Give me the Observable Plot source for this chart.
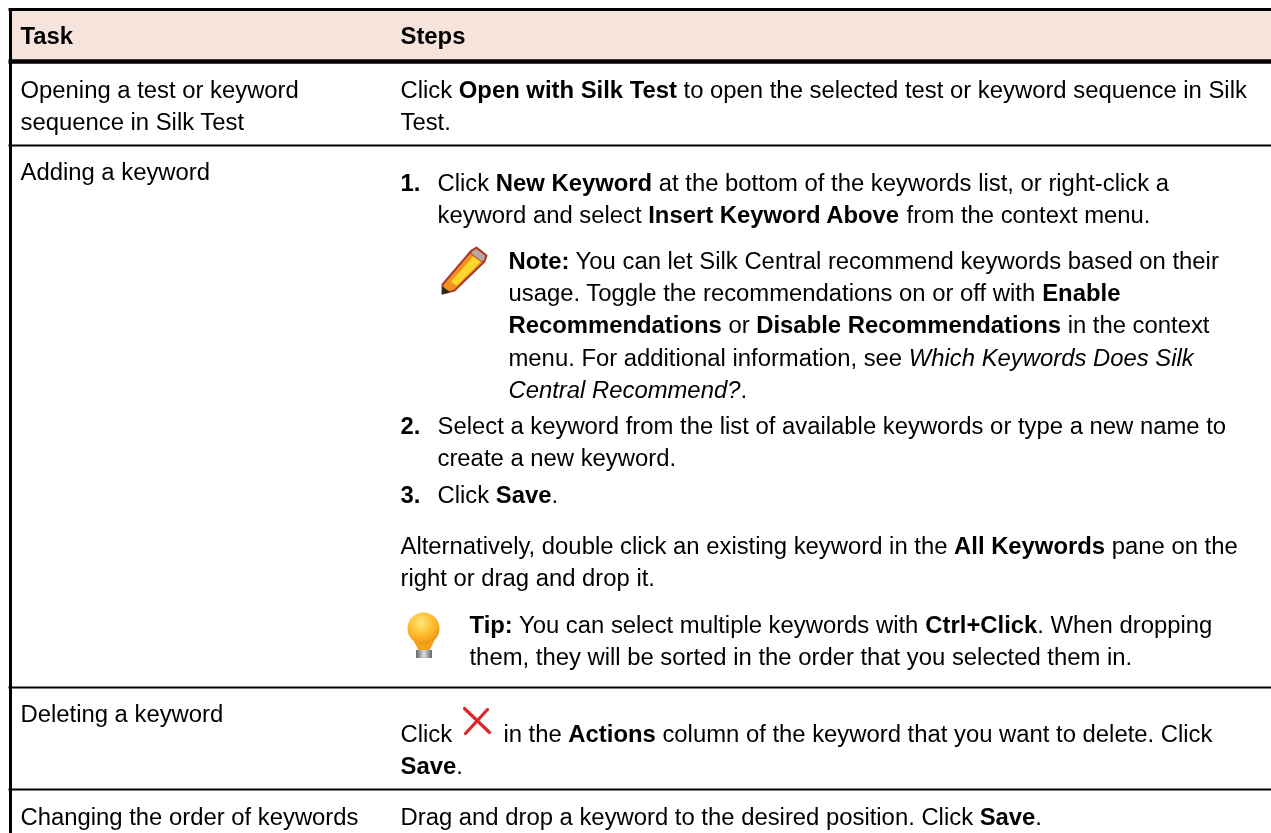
<!DOCTYPE html>
<html><head><meta charset="utf-8">
<script src="https://cdn.jsdelivr.net/npm/d3@7"></script>
<script src="https://cdn.jsdelivr.net/npm/@observablehq/plot@0.6"></script>
<style>html,body{margin:0;padding:0;background:#fff}svg{display:block;filter:blur(0.35px)}</style>
</head><body><div id="chart"></div>
<script>
const B = t => ["bold", t], I = t => ["italic", t];
const headers = ["Task", "Steps"];
const tasks = [
  ["Opening a test or keyword", "sequence in Silk Test"],
  ["Adding a keyword"],
  ["Deleting a keyword"],
  ["Changing the order of keywords"]
];
const openSteps = [
  ["Click ", B("Open with Silk Test"), " to open the selected test or keyword sequence in Silk"],
  ["Test."]
];
const step1 = [
  ["Click ", B("New Keyword"), " at the bottom of the keywords list, or right-click a"],
  ["keyword and select ", B("Insert Keyword Above"), " from the context menu."]
];
const note = [
  [B("Note:"), " You can let Silk Central recommend keywords based on their"],
  ["usage. Toggle the recommendations on or off with ", B("Enable")],
  [B("Recommendations"), " or ", B("Disable Recommendations"), " in the context"],
  ["menu. For additional information, see ", I("Which Keywords Does Silk")],
  [I("Central Recommend?"), "."]
];
const step2 = [
  ["Select a keyword from the list of available keywords or type a new name to"],
  ["create a new keyword."]
];
const step3 = [["Click ", B("Save"), "."]];
const alt = [
  ["Alternatively, double click an existing keyword in the ", B("All Keywords"), " pane on the"],
  ["right or drag and drop it."]
];
const tip = [
  [B("Tip:"), " You can select multiple keywords with ", B("Ctrl+Click"), ". When dropping"],
  ["them, they will be sorted in the order that you selected them in."]
];
const del = [
  ["Click ", ["gap", 38], " in the ", B("Actions"), " column of the keyword that you want to delete. Click"],
  [B("Save"), "."]
];
const order = [["Drag and drop a keyword to the desired position. Click ", B("Save"), "."]];

const W = 1271, H = 833, FS = 23.85, LH = 32.4;
const FAM = "Liberation Sans";
const ctx = document.createElement("canvas").getContext("2d");
const measure = (t, st) => {
  ctx.font = `${st === "bold" ? "bold " : st === "italic" ? "italic " : ""}${FS}px "${FAM}"`;
  return ctx.measureText(t).width;
};
const runs = [];
function put(line, x, y) {
  let cx = x;
  for (const r of line) {
    const [st, t] = typeof r === "string" ? ["normal", r] : r;
    if (st === "gap") { cx += t; continue; }
    runs.push({x: cx, y, t, st});
    cx += measure(t, st);
  }
}
function block(lines, x, y) { lines.forEach((l, i) => put(l, x, y + i * LH)); }

const TX = 20, SX = 400, SI = 437, NX = 508, TIPX = 469;
put([B(headers[0])], TX, 43);
put([B(headers[1])], SX, 43);
block(tasks[0].map(s => [s]), TX, 97);
block(openSteps, SX, 97);
put([tasks[1][0]], TX, 179);
put([B("1.")], SX, 190);
block(step1, SI, 190);
block(note, NX, 268);
put([B("2.")], SX, 433);
block(step2, SI, 433);
put([B("3.")], SX, 502);
block(step3, SI, 502);
block(alt, SX, 553);
block(tip, TIPX, 632);
put([tasks[2][0]], TX, 721);
block(del, SX, 741);
put([tasks[3][0]], TX, 824);
block(order, SX, 824);

const ruleYs = [{y: 9, w: 3}, {y: 61, w: 4.5}, {y: 145, w: 2}, {y: 687, w: 2}, {y: 789, w: 2}];

// icon outlines
const pencilBody = [[442,293],[442,284],[471,250],[476,247],[486,255],[484,261],[454,290]];
const pencilRim = [[472,250],[476,248],[485,255],[484,260],[481,261],[470,253]];
const pencilCore = [[451,281],[474,255],[481,260],[456,285]];
const pencilTip = [[442,293],[442.5,287],[448,291.5]];
const bulbNeck = [[413,640],[418,650],[429,650],[434,640]];
const xStrokes = [[[464,708],[489,732]],[[487,709],[465,733]]];
const asXY = {x: d => d[0], y: d => d[1]};

function defs() {
  const ns = "http://www.w3.org/2000/svg";
  const d = document.createElementNS(ns, "defs");
  d.innerHTML = `<radialGradient id="bulbG" cx="42%" cy="32%" r="72%">
      <stop offset="0%" stop-color="#ffe680"/><stop offset="50%" stop-color="#fdc030"/><stop offset="100%" stop-color="#f09010"/>
    </radialGradient>
    <linearGradient id="baseG" x1="0" x2="1" y1="0" y2="0">
      <stop offset="0%" stop-color="#60666a"/><stop offset="50%" stop-color="#d8dbdd"/><stop offset="100%" stop-color="#60666a"/>
    </linearGradient>`;
  return d;
}

const plot = Plot.plot({
  width: W, height: H, margin: 0,
  x: {domain: [0, W], range: [0, W], axis: null},
  y: {domain: [0, H], range: [0, H], axis: null},
  marks: [
    defs,
    Plot.rectY([{}], {x1: 9, x2: 1271, y1: 9, y2: 60, fill: "#f5e3dc"}),
    Plot.ruleY(ruleYs, {y: "y", x1: 8.5, x2: 1271, stroke: "#000", strokeWidth: "w"}),
    Plot.ruleX([{}], {x: 10, y1: 8, y2: 833, stroke: "#000", strokeWidth: 3}),
    ...["normal","bold","italic"].map(st => Plot.text(runs.filter(r => r.st === st), {
      x: "x", y: "y", text: "t", textAnchor: "start", lineAnchor: "bottom",
      fill: "#000", fontSize: FS, fontFamily: FAM,
      fontWeight: st === "bold" ? "bold" : "normal",
      fontStyle: st === "italic" ? "italic" : "normal"
    })),
    Plot.line(pencilBody.concat([pencilBody[0]]), {...asXY, fill: "#f2901c", stroke: "#a83a2e", strokeWidth: 2}),
    Plot.line(pencilCore.concat([pencilCore[0]]), {...asXY, fill: "#ffd62e", stroke: "#ffd62e", strokeWidth: 1}),
    Plot.line(pencilRim.concat([pencilRim[0]]), {...asXY, fill: "#b9a6a0", stroke: "#a83a2e", strokeWidth: 1}),
    Plot.line(pencilTip.concat([pencilTip[0]]), {...asXY, fill: "#2a2a20", stroke: "#2a2a20"}),
    Plot.line(bulbNeck.concat([bulbNeck[0]]), {...asXY, fill: "#f2a41c", stroke: "none"}),
    Plot.dot([{}], {x: 423, y: 628, r: 16, fill: "url(#bulbG)", stroke: "none"}),
    Plot.rectY([{}], {x1: 416, x2: 432, y1: 650, y2: 658, fill: "url(#baseG)"}),
    ...xStrokes.map(seg => Plot.line(seg, {...asXY, stroke: "#e02526", strokeWidth: 3.2}))
  ]
});
document.getElementById("chart").append(plot);
</script></body></html>
